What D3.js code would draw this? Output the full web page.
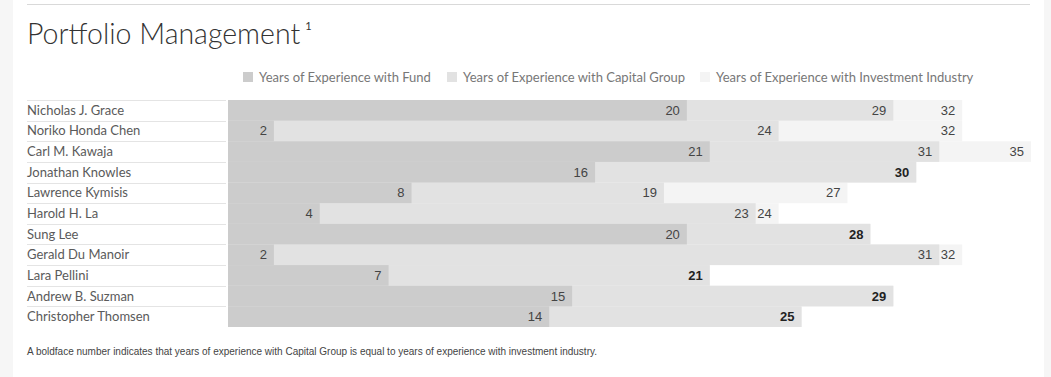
<!DOCTYPE html>
<html><head><meta charset="utf-8">
<script src="https://cdn.jsdelivr.net/npm/d3@7"></script>
<style>
html,body{margin:0;padding:0;background:#fff;}
svg{display:block;}
</style></head>
<body>
<svg id="c" width="1051" height="377"></svg>
<script>
const names = ["Nicholas J. Grace","Noriko Honda Chen","Carl M. Kawaja","Jonathan Knowles","Lawrence Kymisis","Harold H. La","Sung Lee","Gerald Du Manoir","Lara Pellini","Andrew B. Suzman","Christopher Thomsen"];
const yearsFund = [20,2,21,16,8,4,20,2,7,15,14];
const yearsCapital = [29,24,31,30,19,23,28,31,21,29,25];
const yearsIndustry = [32,32,35,30,27,24,28,32,21,29,25];
const seriesNames = ["Years of Experience with Fund","Years of Experience with Capital Group","Years of Experience with Investment Industry"];
const colors = ["#cccccc","#e2e2e2","#f4f4f4"];

const svg = d3.select("#c");
const W = 1051, H = 377;
const sans = "Lato, 'Noto Sans', sans-serif";
const num = "'Liberation Sans', Arial, sans-serif";

// side strips
svg.append("rect").attr("x",0).attr("y",0).attr("width",13).attr("height",H).attr("fill","#f6f6f6");
svg.append("rect").attr("x",1044).attr("y",0).attr("width",7).attr("height",H).attr("fill","#f6f6f6");
// top rule
svg.append("line").attr("x1",27).attr("x2",1030).attr("y1",4.5).attr("y2",4.5).attr("stroke","#d9d9d9");

// title
const t = svg.append("text").attr("x",27).attr("y",44).attr("font-family",sans).attr("font-weight",300)
  .attr("font-size",28.5).attr("fill","#333").text("Portfolio Management");
t.append("tspan").attr("font-size",11).attr("font-weight",400).attr("dx",5).attr("dy",-14).text("1");

// scales
const x = d3.scaleLinear().domain([0,35]).range([228,1031]);
const y = d3.scaleBand().domain(names).range([100,327]).padding(0);

// legend
const legX = [243,447,700];
seriesNames.forEach((s,i)=>{
  const g = svg.append("g").attr("transform",`translate(${legX[i]},77)`);
  g.append("rect").attr("x",0).attr("y",-5).attr("width",10).attr("height",10).attr("fill",colors[i]);
  g.append("text").attr("x",16).attr("y",4.5).attr("font-family",sans).attr("font-size",13).attr("fill","#777").text(s);
});

// row separators
svg.append("g").selectAll("line").data(names).join("line")
  .attr("x1",27).attr("x2",226)
  .attr("y1",d=>Math.round(y(d))+0.5).attr("y2",d=>Math.round(y(d))+0.5)
  .attr("stroke","#e4e4e4");

// names
svg.append("g").selectAll("text").data(names).join("text")
  .attr("x",27).attr("y",d=>y(d)+y.bandwidth()/2+4.5)
  .attr("font-family",sans).attr("font-size",13).attr("fill","#5a5a5a").text(d=>d);

const rows = names.map((n,i)=>({n, f:yearsFund[i], c:yearsCapital[i], ind:yearsIndustry[i]}));

// bars: industry, capital, fund
const barLayers = [["ind",2],["c",1],["f",0]];
barLayers.forEach(([k,ci])=>{
  svg.append("g").selectAll("rect").data(rows).join("rect")
    .attr("x",x(0)).attr("y",d=>y(d.n)).attr("height",y.bandwidth())
    .attr("width",d=>x(d[k])-x(0)).attr("fill",colors[ci]);
});

// labels
const lab = svg.append("g").attr("font-family",num).attr("font-size",13).attr("text-anchor","end");
rows.forEach(d=>{
  const cy = y(d.n)+y.bandwidth()/2+4.5;
  lab.append("text").attr("x",x(d.f)-7).attr("y",cy).attr("fill","#444").text(d.f);
  const eq = d.c===d.ind;
  lab.append("text").attr("x",x(d.c)-7).attr("y",cy).attr("fill",eq?"#222":"#444")
    .attr("font-weight",eq?"bold":"normal").text(d.c);
  if(!eq) lab.append("text").attr("x",x(d.ind)-7).attr("y",cy).attr("fill","#444").text(d.ind);
});

// footnote
svg.append("text").attr("x",27).attr("y",355).attr("font-family","'Liberation Sans Narrow', 'Liberation Sans', sans-serif")
  .attr("font-size",11).attr("fill","#444").attr("textLength",570).attr("lengthAdjust","spacingAndGlyphs")
  .text("A boldface number indicates that years of experience with Capital Group is equal to years of experience with investment industry.");
</script>
</body></html>
